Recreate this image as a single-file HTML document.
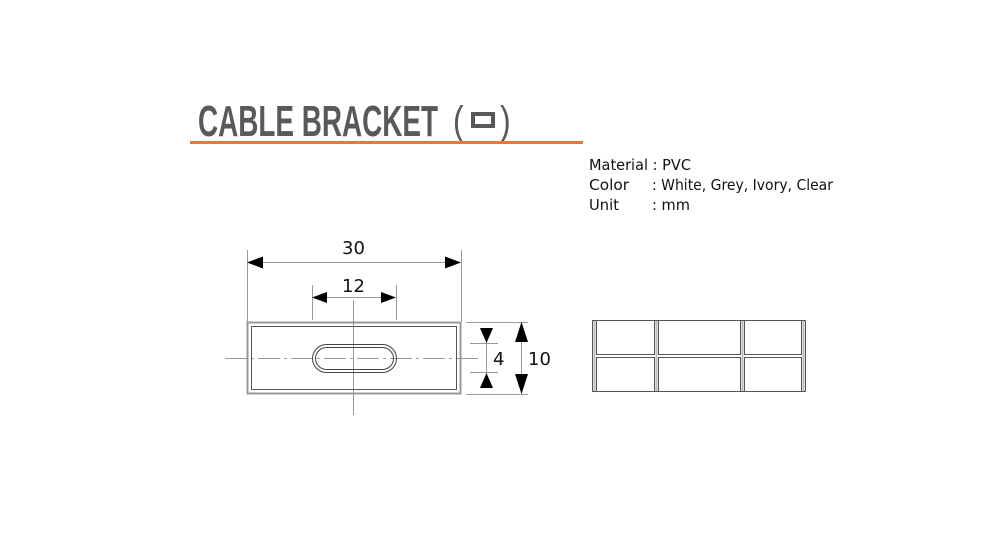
<!DOCTYPE html>
<html><head><style>
html,body{margin:0;padding:0;background:#fff;width:992px;height:539px;overflow:hidden}
</style></head><body>
<svg width="992" height="539" xmlns="http://www.w3.org/2000/svg" style="display:block">
<text x="198" y="136" font-family="Liberation Sans, sans-serif" font-weight="bold" font-size="44" fill="#58595b" textLength="240" lengthAdjust="spacingAndGlyphs">CABLE BRACKET</text>
<text x="453" y="134" font-family="Liberation Sans, sans-serif" font-size="40" fill="#58595b" transform="translate(453,134) scale(0.8,1) translate(-453,-134)">(</text>
<rect x="473" y="114" width="20" height="12" fill="none" stroke="#58595b" stroke-width="4"/>
<text x="500" y="134" font-family="Liberation Sans, sans-serif" font-size="40" fill="#58595b" transform="translate(500,134) scale(0.8,1) translate(-500,-134)">)</text>
<rect x="190" y="141" width="393" height="3" fill="#e67a35"/>
<g font-family="DejaVu Sans, Liberation Sans, sans-serif" font-size="15" fill="#111">
<text x="589" y="170" textLength="102" lengthAdjust="spacingAndGlyphs">Material : PVC</text>
<text x="589" y="190" textLength="40" lengthAdjust="spacingAndGlyphs">Color</text><text x="652" y="190" textLength="181" lengthAdjust="spacingAndGlyphs">: White, Grey, Ivory, Clear</text>
<text x="589" y="210" textLength="30" lengthAdjust="spacingAndGlyphs">Unit</text><text x="652" y="210" textLength="38" lengthAdjust="spacingAndGlyphs">: mm</text>
</g>
<g stroke="#999" stroke-width="1" fill="none">
<line x1="247.5" y1="250" x2="247.5" y2="322"/>
<line x1="461.5" y1="250" x2="461.5" y2="322"/>
<line x1="312.5" y1="285" x2="312.5" y2="320"/>
<line x1="396.5" y1="285" x2="396.5" y2="320"/>
<line x1="260" y1="262.5" x2="450" y2="262.5"/>
<line x1="325" y1="297.5" x2="385" y2="297.5"/>
<line x1="353.5" y1="300" x2="353.5" y2="415"/>
<line x1="225" y1="358.5" x2="478" y2="358.5" stroke-dasharray="22,4,3,4"/>
<line x1="466" y1="322.5" x2="528" y2="322.5"/>
<line x1="466" y1="394.5" x2="528" y2="394.5"/>
<line x1="470" y1="343.5" x2="498" y2="343.5"/>
<line x1="470" y1="372.5" x2="498" y2="372.5"/>
<line x1="486.5" y1="328" x2="486.5" y2="388"/>
<line x1="521.5" y1="322" x2="521.5" y2="394"/>
</g>
<g fill="#000">
<polygon points="247,262.5 263,256.5 263,268.5"/>
<polygon points="461,262.5 445,256.5 445,268.5"/>
<polygon points="312,297.5 327,292 327,303"/>
<polygon points="396,297.5 381,292 381,303"/>
<polygon points="486.5,343 480,328 493,328"/>
<polygon points="486.5,373 480,388 493,388"/>
<polygon points="521.5,322 515,342 528,342"/>
<polygon points="521.5,394 515,374 528,374"/>
</g>
<g font-family="DejaVu Sans, Liberation Sans, sans-serif" font-size="18" fill="#111">
<text x="342" y="254">30</text>
<text x="342" y="292">12</text>
<text x="493" y="365">4</text>
<text x="528" y="365">10</text>
</g>
<rect x="247.5" y="322.5" width="213" height="71" fill="none" stroke="#999" stroke-width="2"/>
<rect x="251.5" y="326.5" width="205" height="63" fill="none" stroke="#555" stroke-width="1"/>
<rect x="312.5" y="344.5" width="84" height="28" rx="14" fill="none" stroke="#444" stroke-width="1"/>
<rect x="315.5" y="347.5" width="78" height="22" rx="11" fill="none" stroke="#444" stroke-width="1"/>
<g fill="none" stroke="#555" stroke-width="1">
<rect x="592.5" y="320.5" width="213" height="71"/>
<rect x="596.5" y="320.5" width="58" height="34"/>
<rect x="596.5" y="357.5" width="58" height="34"/>
<rect x="658.5" y="320.5" width="82" height="34"/>
<rect x="658.5" y="357.5" width="82" height="34"/>
<rect x="744.5" y="320.5" width="57" height="34"/>
<rect x="744.5" y="357.5" width="57" height="34"/>
</g>
<g stroke="#bbb" stroke-width="2">
<line x1="594.5" y1="321" x2="594.5" y2="391"/>
<line x1="803.5" y1="321" x2="803.5" y2="391"/>
<line x1="656.5" y1="321" x2="656.5" y2="391"/>
<line x1="742.5" y1="321" x2="742.5" y2="391"/>
</g>
</svg>
</body></html>
